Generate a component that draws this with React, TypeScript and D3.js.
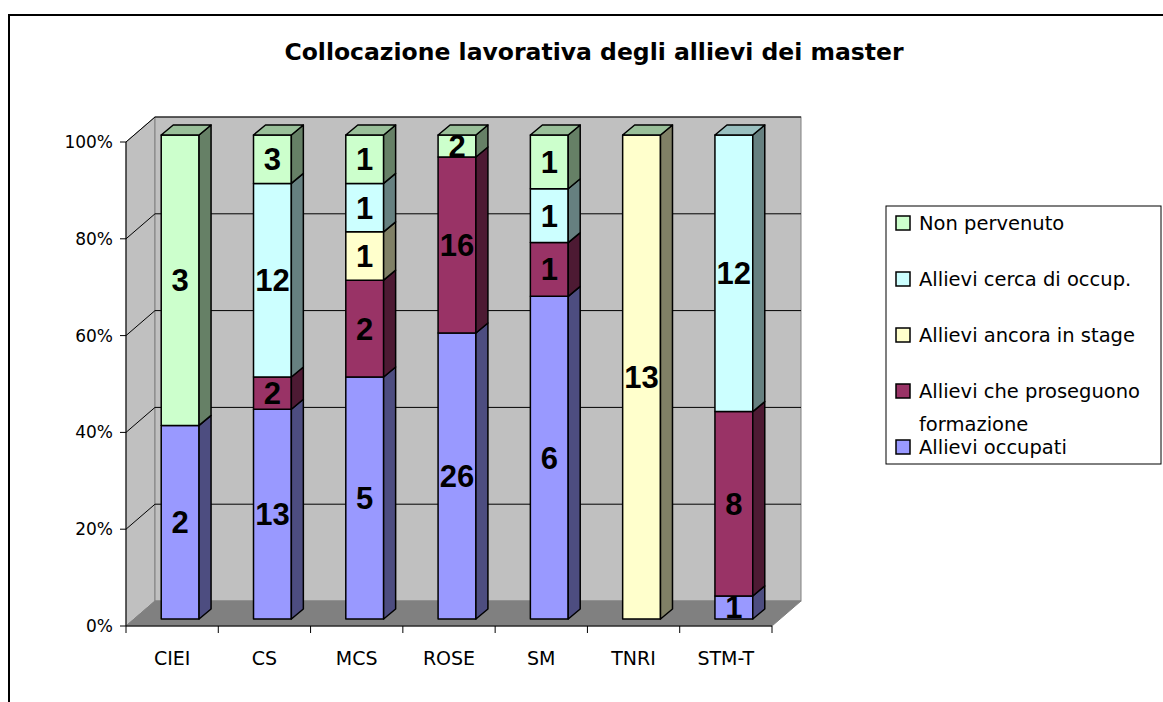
import * as d3 from 'd3';

const categories = ['CIEI', 'CS', 'MCS', 'ROSE', 'SM', 'TNRI', 'STM-T'];
const occupati = [2, 13, 5, 26, 6, 0, 1];
const proseguono = [0, 2, 2, 16, 1, 0, 8];
const stage = [0, 0, 1, 0, 0, 13, 0];
const cerca = [0, 12, 1, 0, 1, 0, 12];
const nonPervenuto = [3, 3, 1, 2, 1, 0, 0];
// series whose (possibly empty) cap closes each column, as Excel drew it
const capSeries = ['nonPervenuto', 'nonPervenuto', 'nonPervenuto', 'nonPervenuto', 'nonPervenuto', 'nonPervenuto', 'cerca'];
const yTicks = [0, 0.2, 0.4, 0.6, 0.8, 1];

const seriesKeys = ['occupati', 'proseguono', 'stage', 'cerca', 'nonPervenuto'];
const seriesValues: Record<string, number[]> = { occupati, proseguono, stage, cerca, nonPervenuto };
const seriesColors: Record<string, string> = {
  occupati: '#9999FF',
  proseguono: '#993366',
  stage: '#FFFFCC',
  cerca: '#CCFFFF',
  nonPervenuto: '#CCFFCC',
};
// legend order as in the picture (top to bottom)
const legendItems = [
  { key: 'nonPervenuto', lines: ['Non pervenuto'] },
  { key: 'cerca', lines: ['Allievi cerca di occup.'] },
  { key: 'stage', lines: ['Allievi ancora in stage'] },
  { key: 'proseguono', lines: ['Allievi che proseguono', 'formazione'] },
  { key: 'occupati', lines: ['Allievi occupati'] },
];

const W = 1163;
const H = 702;
const font = "'DejaVu Sans', sans-serif";
const labelFont = "'Liberation Sans', Arial, sans-serif";

// plot geometry (front plane) and 3D depth offset
const x0 = 126;
const x1 = 772;
const depthX = 29;
const depthY = -25;
const barOffX = 8;
const barOffY = -7;
const barDX = 12;
const barDY = -10;

function App() {
  const x = d3.scaleBand<string>().domain(categories).range([x0, x1]).padding(0);
  const y = d3.scaleLinear().domain([0, 1]).range([626, 142]);

  const rows = categories.map((c, i) => {
    const r: Record<string, number | string> = { cat: c };
    seriesKeys.forEach((k) => (r[k] = seriesValues[k][i]));
    return r;
  });
  const stacked = d3
    .stack<Record<string, number | string>>()
    .keys(seriesKeys)
    .value((d, k) => d[k] as number)
    .offset(d3.stackOffsetExpand)(rows);

  const barW = x.bandwidth() * 0.41;
  const shade = (c: string, f: number) => {
    const col = d3.rgb(c);
    return d3.rgb(col.r * f, col.g * f, col.b * f).formatHex();
  };

  const yTop = y(1);
  const yBot = y(0);
  const pts = (p: number[][]) => p.map((q) => q.join(',')).join(' ');

  return (
    <svg width={W} height={H} style={{ position: 'absolute', left: 0, top: 0, background: '#fff' }}>
      <rect x={9} y={15} width={W + 20} height={H + 20} fill="#fff" stroke="#000" strokeWidth={2} />
      <text x={594} y={60} textAnchor="middle" fontFamily={font} fontWeight="bold" fontSize={23.5}>
        Collocazione lavorativa degli allievi dei master
      </text>

      {/* walls */}
      <polygon
        points={pts([[x0, yTop], [x0 + depthX, yTop + depthY], [x0 + depthX, yBot + depthY], [x0, yBot]])}
        fill="#C0C0C0"
        stroke="#808080"
      />
      <rect
        x={x0 + depthX}
        y={yTop + depthY}
        width={x1 - x0}
        height={yBot - yTop}
        fill="#C0C0C0"
        stroke="#808080"
      />
      <polygon
        points={pts([[x0, yBot], [x0 + depthX, yBot + depthY], [x1 + depthX, yBot + depthY], [x1, yBot]])}
        fill="#808080"
        stroke="#808080"
      />

      {/* gridlines */}
      {yTicks.slice(1).map((t) => (
        <g key={t} stroke="#000" strokeWidth={1}>
          <line x1={x0} y1={y(t)} x2={x0 + depthX} y2={y(t) + depthY} />
          <line x1={x0 + depthX} y1={y(t) + depthY} x2={x1 + depthX} y2={y(t) + depthY} />
        </g>
      ))}

      {/* axes */}
      <line x1={x0} y1={yTop} x2={x0} y2={yBot} stroke="#000" />
      {yTicks.map((t) => (
        <g key={t}>
          <line x1={x0 - 6} y1={y(t)} x2={x0} y2={y(t)} stroke="#000" />
          <text x={x0 - 13} y={y(t) + 6} textAnchor="end" fontFamily={font} fontSize={17}>
            {d3.format('.0%')(t)}
          </text>
        </g>
      ))}
      <line x1={x0} y1={yBot} x2={x1} y2={yBot} stroke="#000" />
      {[...categories.map((c) => x(c) as number), x1].map((v, i) => (
        <line key={i} x1={v} y1={yBot} x2={v} y2={yBot + 7} stroke="#000" />
      ))}
      {categories.map((c) => (
        <text
          key={c}
          x={(x(c) as number) + x.bandwidth() / 2}
          y={665}
          textAnchor="middle"
          fontFamily={font}
          fontSize={19}
        >
          {c}
        </text>
      ))}

      {/* bars */}
      {categories.map((c, ci) => {
        const L = (x(c) as number) + (x.bandwidth() - barW) / 2 + barOffX;
        const R = L + barW;
        const capCol = seriesColors[capSeries[ci]];
        const capY = y(1) + barOffY;
        return (
          <g key={c} stroke="#000" strokeWidth={1.5} strokeLinejoin="round">
            {stacked.map((s) => {
              const [a, b] = s[ci];
              if (b - a <= 0) return null;
              const yb = y(a) + barOffY;
              const yt = y(b) + barOffY;
              const col = seriesColors[s.key];
              return (
                <g key={s.key}>
                  <rect x={L} y={yt} width={barW} height={yb - yt} fill={col} />
                  <polygon
                    points={pts([[R, yb], [R, yt], [R + barDX, yt + barDY], [R + barDX, yb + barDY]])}
                    fill={shade(col, 0.5)}
                  />
                </g>
              );
            })}
            <polygon
              points={pts([[L, capY], [R, capY], [R + barDX, capY + barDY], [L + barDX, capY + barDY]])}
              fill={shade(capCol, 0.75)}
            />
            {stacked.map((s) => {
              const [a, b] = s[ci];
              const v = seriesValues[s.key][ci];
              if (v <= 0) return null;
              const cy = (y(a) + y(b)) / 2 + barOffY;
              return (
                <text
                  key={'t' + s.key}
                  x={(L + R) / 2}
                  y={cy + 11}
                  textAnchor="middle"
                  fontFamily={labelFont}
                  fontWeight="bold"
                  fontSize={31}
                  stroke="none"
                  fill="#000"
                >
                  {v}
                </text>
              );
            })}
          </g>
        );
      })}

      {/* legend */}
      <rect x={886} y={206} width={275} height={258} fill="#fff" stroke="#000" />
      {legendItems.map((it, i) => {
        const cy = 223 + i * 56;
        return (
          <g key={it.key}>
            <rect x={896} y={cy - 7} width={14} height={14} fill={seriesColors[it.key]} stroke="#000" strokeWidth={1.5} />
            {it.lines.map((ln, li) => (
              <text key={li} x={919} y={cy + 7} dy={li === 0 ? 0 : 33} fontFamily={font} fontSize={19.5}>
                {ln}
              </text>
            ))}
          </g>
        );
      })}
    </svg>
  );
}

export default App;
